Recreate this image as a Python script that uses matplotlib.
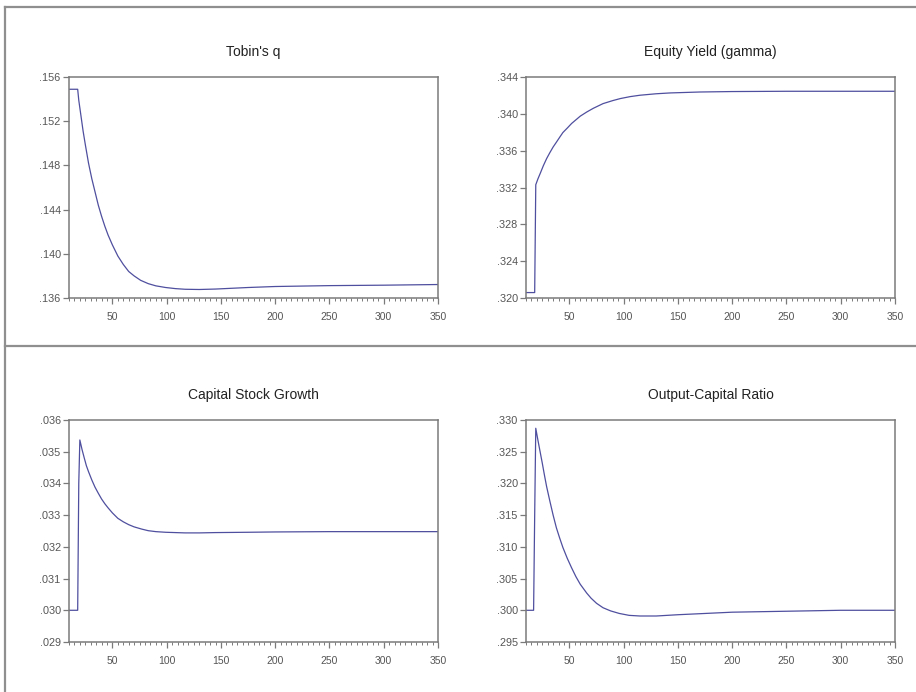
import matplotlib
matplotlib.use("Agg")
import matplotlib.pyplot as plt
from matplotlib.lines import Line2D
from matplotlib.ticker import MultipleLocator, FuncFormatter

# ---- data ----
periods_q = [10, 18, 19, 21, 23, 25, 28, 31, 34, 37, 40, 43, 46, 50, 55, 60, 65, 70, 76, 83, 90, 99, 108, 117, 130, 145, 175, 200, 250, 300, 350]
tobins_q  = [.15489, .15489, .15390, .15250, .15110, .14990, .14820, .14680, .14560, .14440, .14340, .14250, .14170, .14080, .13980, .13904, .13840, .13800, .13760, .13730, .13710, .13695, .13685, .13679, .13677, .13681, .13695, .13704, .13712, .13716, .13722]

periods_g = [10, 18, 19, 21, 23, 26, 29, 32, 35, 38, 41, 44, 48, 52, 56, 60, 66, 72, 81, 90, 97, 106, 115, 130, 143, 170, 200, 250, 300, 350]
equity_yield = [.32059, .32059, .33230, .33294, .33350, .33437, .33514, .33579, .33640, .33692, .33745, .33797, .33845, .33895, .33935, .33975, .34020, .34060, .34111, .34144, .34166, .34187, .34202, .34218, .34227, .34237, .34242, .34245, .34245, .34245]

periods_k = [10, 18, 19, 20, 22, 24, 26, 28, 31, 34, 37, 40, 43, 46, 50, 55, 60, 65, 70, 77, 83, 90, 99, 108, 117, 130, 145, 175, 200, 250, 300, 350]
capital_growth = [.03000, .03000, .03400, .03537, .03507, .03481, .03456, .03437, .03411, .03388, .03369, .03351, .03336, .03323, .03307, .03290, .03279, .03270, .03263, .03256, .03251, .03248, .03246, .03245, .03244, .03244, .03245, .03246, .03247, .03248, .03248, .03248]

periods_y = [10, 17, 18, 19, 21, 23, 25, 27, 29, 32, 35, 38, 41, 44, 48, 52, 56, 60, 66, 70, 75, 81, 88, 96, 105, 115, 130, 150, 175, 200, 250, 300, 350]
output_capital = [.30000, .30000, .31500, .32870, .32680, .32500, .32320, .32130, .31950, .31720, .31500, .31300, .31140, .30990, .30820, .30670, .30530, .30410, .30270, .30190, .30110, .30040, .29990, .29950, .29920, .29910, .29910, .29930, .29950, .29970, .29985, .30000, .30000]

titles = ["Tobin's q", "Equity Yield (gamma)", "Capital Stock Growth", "Output-Capital Ratio"]
ylims = [(.136, .156), (.320, .344), (.029, .036), (.295, .330)]
ysteps = [.004, .004, .001, .005]
xticks = [50, 100, 150, 200, 250, 300, 350]
xlim = (10, 350)

series = [(periods_q, tobins_q), (periods_g, equity_yield),
          (periods_k, capital_growth), (periods_y, output_capital)]

# ---- figure ----
plt.rcParams['font.family'] = ['Liberation Sans', 'DejaVu Sans']
fig = plt.figure(figsize=(9.16, 6.92), dpi=100)
fig.patch.set_facecolor('white')

W, H = 916.0, 692.0
boxes = [(69, 77, 438, 298), (526, 77, 895, 298),
         (69, 420, 438, 642), (526, 420, 895, 642)]

line_color = '#4f4f9f'
spine_color = '#7a7a7a'

def fmt(v, pos):
    s = f"{v:.3f}"
    return s[1:] if s.startswith("0") else s

for i, (x0, y0, x1, y1) in enumerate(boxes):
    ax = fig.add_axes([x0 / W, 1 - y1 / H, (x1 - x0) / W, (y1 - y0) / H])
    xs, ys = series[i]
    ax.plot(xs, ys, color=line_color, lw=0.9)
    ax.set_xlim(*xlim)
    ax.set_ylim(*ylims[i])
    ax.set_xticks(xticks)
    ax.xaxis.set_minor_locator(MultipleLocator(5))
    ax.yaxis.set_major_locator(MultipleLocator(ysteps[i]))
    ax.yaxis.set_major_formatter(FuncFormatter(fmt))
    for sp in ax.spines.values():
        sp.set_color(spine_color)
        sp.set_linewidth(1.1)
    ax.tick_params(axis='both', which='major', direction='out', length=4,
                   width=0.9, color=spine_color, labelcolor='#555555')
    ax.tick_params(axis='x', which='minor', direction='out', length=2,
                   width=0.7, color=spine_color)
    ax.tick_params(axis='x', labelsize=7.5, pad=6)
    ax.tick_params(axis='y', labelsize=7.8, pad=2)
    ax.tick_params(top=False, right=False)
    ax.set_title(titles[i], fontsize=10, color='#222222', pad=15)

# outer frame lines
fc = '#8f8f8f'
fig.add_artist(Line2D([5 / W, 1.0], [1 - 7 / H, 1 - 7 / H], color=fc, lw=1.6, transform=fig.transFigure))
fig.add_artist(Line2D([5 / W, 5 / W], [0, 1 - 7 / H], color=fc, lw=1.6, transform=fig.transFigure))
fig.add_artist(Line2D([5 / W, 1.0], [0.5, 0.5], color=fc, lw=1.6, transform=fig.transFigure))

fig.savefig("out.png", dpi=100)
